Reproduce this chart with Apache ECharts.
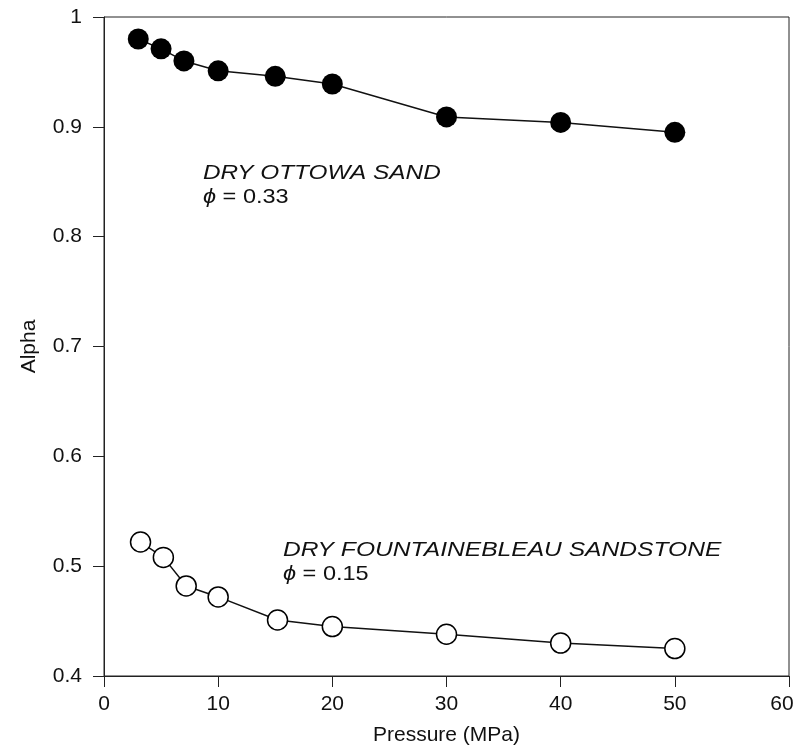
<!DOCTYPE html>
<html>
<head>
<meta charset="utf-8">
<title>Alpha vs Pressure</title>
<script src="https://cdn.jsdelivr.net/npm/echarts@6/dist/echarts.min.js"></script>
<style>
  html, body { margin: 0; padding: 0; background: #fff; }
  #main { width: 798px; height: 755px; }
</style>
</head>
<body>
<div id="main"></div>
<script>
// dry Ottowa sand (filled circles)
const sandPressure = [3, 5, 7, 10, 15, 20, 30, 40, 50];
const sandAlpha = [0.980, 0.971, 0.960, 0.951, 0.946, 0.939, 0.909, 0.904, 0.895];
// dry Fontainebleau sandstone (open circles)
const stonePressure = [3.2, 5.2, 7.2, 10, 15.2, 20, 30, 40, 50];
const stoneAlpha = [0.522, 0.508, 0.482, 0.472, 0.451, 0.445, 0.438, 0.430, 0.425];

const FONT = "'Liberation Sans', Arial, sans-serif";

function pairs(xs, ys) {
  return xs.map(function (x, i) { return [x, ys[i]]; });
}

// phi line: italic phi, upright rest
function phiText(x, y, value) {
  return {
    type: "text",
    x: x,
    y: y,
    scaleX: 1.12,
    style: {
      text: "{i|ϕ} = " + value,
      font: "21px " + FONT,
      fill: "#111",
      verticalAlign: "top",
      rich: {
        i: { fontStyle: "italic", fontFamily: FONT, fontSize: 21, fill: "#111" },
      },
    },
  };
}

const chart = echarts.init(document.getElementById("main"));

chart.setOption({
  animation: false,
  backgroundColor: "#fff",
  grid: {
    left: 104,
    right: 9,
    top: 17,
    bottom: 79,
    containLabel: false,
    outerBoundsMode: "none",
    show: true,
    borderColor: "#222",
    borderWidth: 1,
  },
  xAxis: {
    type: "value",
    min: 0,
    max: 60,
    interval: 10,
    name: "Pressure (MPa)",
    nameLocation: "middle",
    nameGap: 49,
    nameTextStyle: { fontFamily: FONT, fontSize: 21, color: "#111" },
    axisLine: { show: true, lineStyle: { color: "#222", width: 1 } },
    axisTick: { show: true, length: 11, lineStyle: { color: "#222" } },
    axisLabel: {
      fontFamily: FONT,
      fontSize: 21,
      color: "#111",
      margin: 18,
      // last label sits a bit left of its tick so it stays inside the page
      formatter: function (v) { return v === 60 ? "{r|60}" : String(v); },
      rich: { r: { fontFamily: FONT, fontSize: 21, color: "#111", padding: [0, 14, 0, 0] } },
    },
    splitLine: { show: false },
  },
  yAxis: {
    type: "value",
    min: 0.4,
    max: 1,
    interval: 0.1,
    name: "Alpha",
    nameLocation: "middle",
    nameGap: 64,
    nameTextStyle: { fontFamily: FONT, fontSize: 21, color: "#111" },
    axisLine: { show: true, lineStyle: { color: "#222", width: 1 } },
    axisTick: { show: true, length: 11, lineStyle: { color: "#222" } },
    axisLabel: { fontFamily: FONT, fontSize: 21, color: "#111", margin: 22 },
    splitLine: { show: false },
  },
  series: [
    {
      name: "DRY OTTOWA SAND",
      type: "line",
      data: pairs(sandPressure, sandAlpha),
      symbol: "circle",
      symbolSize: 21,
      lineStyle: { color: "#111", width: 1.5 },
      itemStyle: { color: "#000", borderColor: "#000", borderWidth: 0 },
    },
    {
      name: "DRY FOUNTAINEBLEAU SANDSTONE",
      type: "line",
      data: pairs(stonePressure, stoneAlpha),
      symbol: "circle",
      symbolSize: 20,
      lineStyle: { color: "#111", width: 1.5 },
      itemStyle: { color: "#fff", borderColor: "#000", borderWidth: 1.5 },
    },
  ],
  graphic: [
    {
      type: "text",
      x: 203,
      y: 163,
      scaleX: 1.16,
      style: {
        text: "DRY OTTOWA SAND",
        font: "italic 21px " + FONT,
        fill: "#111",
        verticalAlign: "top",
      },
    },
    phiText(203, 187, "0.33"),
    {
      type: "text",
      x: 283,
      y: 540,
      scaleX: 1.2,
      style: {
        text: "DRY FOUNTAINEBLEAU SANDSTONE",
        font: "italic 20.5px " + FONT,
        fill: "#111",
        verticalAlign: "top",
      },
    },
    phiText(283, 564, "0.15"),
  ],
});
</script>
</body>
</html>
